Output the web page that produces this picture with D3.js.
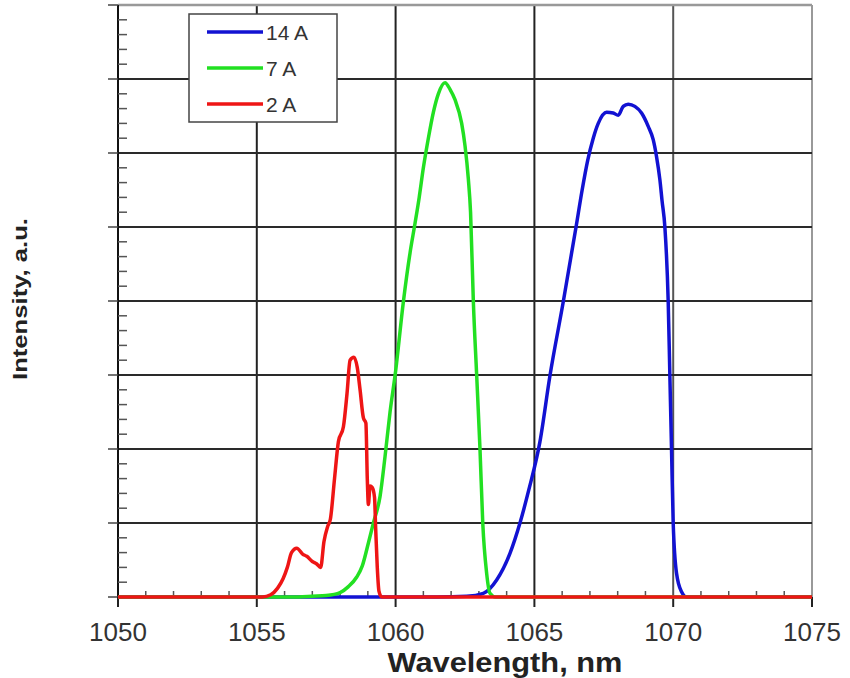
<!DOCTYPE html>
<html>
<head>
<meta charset="utf-8">
<script src="https://cdn.jsdelivr.net/npm/d3@7"></script>
<style>
    body { margin: 0; background: #fff; }
    svg { display: block; }
</style>
</head>
<body>
<svg width="850" height="678"></svg>
<script>
// wavelength (nm) / intensity (in grid units, 0..8)
const wl14 = [1050, 1061.5, 1062.56, 1063.16, 1063.64, 1064.12, 1064.48, 1064.8, 1065.2, 1065.56, 1066.04, 1066.5, 1066.72, 1066.92, 1067.12, 1067.3, 1067.6, 1067.84, 1068.02, 1068.2, 1068.38, 1068.62, 1068.86, 1069.1, 1069.28, 1069.4, 1069.52, 1069.6, 1069.7, 1069.82, 1069.88, 1069.94, 1070.0, 1070.12, 1070.3, 1070.48, 1075];
const int14 = [0, 0, 0.01, 0.05, 0.23, 0.59, 1.0, 1.45, 2.1, 2.99, 3.99, 5.0, 5.5, 5.9, 6.2, 6.4, 6.55, 6.54, 6.51, 6.63, 6.66, 6.63, 6.54, 6.36, 6.18, 5.95, 5.64, 5.35, 5.0, 3.99, 2.99, 1.99, 1.0, 0.32, 0.07, 0, 0];

const wl7 = [1050, 1056.5, 1057.0, 1057.5, 1058.0, 1058.3, 1058.6, 1058.8, 1059.02, 1059.2, 1059.44, 1059.62, 1059.8, 1060.0, 1060.28, 1060.52, 1060.7, 1060.85, 1061.0, 1061.18, 1061.36, 1061.54, 1061.78, 1061.96, 1062.14, 1062.38, 1062.5, 1062.62, 1062.7, 1062.8, 1062.92, 1063.04, 1063.14, 1063.28, 1063.4, 1063.6, 1075];
const int7 = [0, 0, 0.01, 0.02, 0.06, 0.14, 0.27, 0.42, 0.73, 1.0, 1.36, 1.9, 2.5, 3.05, 3.99, 4.65, 5.05, 5.4, 5.8, 6.2, 6.55, 6.8, 6.95, 6.86, 6.72, 6.4, 6.1, 5.65, 5.2, 4.0, 3.0, 2.0, 1.0, 0.32, 0.05, 0, 0];

const wl2 = [1050, 1055.2, 1055.5, 1055.75, 1055.95, 1056.1, 1056.25, 1056.44, 1056.65, 1056.8, 1057.0, 1057.15, 1057.3, 1057.42, 1057.55, 1057.65, 1057.8, 1057.94, 1058.12, 1058.25, 1058.36, 1058.5, 1058.62, 1058.72, 1058.84, 1058.93, 1058.98, 1059.02, 1059.08, 1059.16, 1059.24, 1059.28, 1059.34, 1059.4, 1059.5, 1075];
const int2 = [0, 0, 0.03, 0.12, 0.25, 0.4, 0.6, 0.66, 0.58, 0.55, 0.48, 0.45, 0.4, 0.75, 0.95, 1.05, 1.6, 2.1, 2.3, 2.75, 3.2, 3.24, 3.1, 2.8, 2.42, 2.35, 1.6, 1.25, 1.5, 1.48, 1.35, 0.95, 0.4, 0.08, 0, 0];

const seriesNames = ["14 A", "7 A", "2 A"];
const seriesColors = ["#1212d2", "#22e022", "#ee1515"];
const xTicks = [1050, 1055, 1060, 1065, 1070, 1075];

const svg = d3.select("svg");

const attr_area = { left: 118, right: 812, top: 5, bottom: 597 };

const scaleX = d3.scaleLinear().domain([1050, 1075]).range([attr_area.left, attr_area.right]);
const scaleY = d3.scaleLinear().domain([0, 8]).range([attr_area.bottom, attr_area.top]);

// grid
const grid = svg.append("g");
grid.selectAll("line.v")
    .data(xTicks.slice(1))
    .enter()
    .append("line")
    .attr("x1", d => scaleX(d)).attr("x2", d => scaleX(d))
    .attr("y1", attr_area.top).attr("y2", attr_area.bottom)
    .attr("stroke", d => d === 1075 ? "#999" : (d === 1070 ? "#555" : "#222"))
    .attr("stroke-width", 2);
grid.selectAll("line.h")
    .data(d3.range(1, 9))
    .enter()
    .append("line")
    .attr("x1", attr_area.left).attr("x2", attr_area.right)
    .attr("y1", d => scaleY(d)).attr("y2", d => scaleY(d))
    .attr("stroke", d => d === 8 ? "#999" : "#2a2a2a")
    .attr("stroke-width", d => d === 8 ? 2.5 : 2);

// y axis: major ticks outside, minor ticks inside
const axisY = svg.append("g");
axisY.append("line")
    .attr("x1", attr_area.left).attr("x2", attr_area.left)
    .attr("y1", attr_area.top).attr("y2", attr_area.bottom + 10)
    .attr("stroke", "#111").attr("stroke-width", 2);
axisY.selectAll("line.major")
    .data(d3.range(0, 9))
    .enter()
    .append("line")
    .attr("x1", attr_area.left - 10).attr("x2", attr_area.left)
    .attr("y1", d => scaleY(d)).attr("y2", d => scaleY(d))
    .attr("stroke", "#444").attr("stroke-width", 1.5);
axisY.selectAll("line.minor")
    .data(d3.range(0, 8.01, 0.2).filter(v => Math.abs(v - Math.round(v)) > 0.01))
    .enter()
    .append("line")
    .attr("x1", attr_area.left).attr("x2", attr_area.left + 9)
    .attr("y1", d => scaleY(d)).attr("y2", d => scaleY(d))
    .attr("stroke", "#555").attr("stroke-width", 1.5);

// x axis
const axisX = svg.append("g");
axisX.append("line")
    .attr("x1", attr_area.left).attr("x2", attr_area.right)
    .attr("y1", attr_area.bottom).attr("y2", attr_area.bottom)
    .attr("stroke", "#111").attr("stroke-width", 2);
axisX.selectAll("line.major")
    .data(xTicks)
    .enter()
    .append("line")
    .attr("x1", d => scaleX(d)).attr("x2", d => scaleX(d))
    .attr("y1", attr_area.bottom).attr("y2", attr_area.bottom + 10)
    .attr("stroke", "#222").attr("stroke-width", 2);
axisX.selectAll("line.minor")
    .data(d3.range(1051, 1075).filter(v => v % 5 !== 0))
    .enter()
    .append("line")
    .attr("x1", d => scaleX(d)).attr("x2", d => scaleX(d))
    .attr("y1", attr_area.bottom).attr("y2", attr_area.bottom - 6)
    .attr("stroke", "#555").attr("stroke-width", 1.5);
axisX.selectAll("text")
    .data(xTicks)
    .enter()
    .append("text")
    .attr("x", d => scaleX(d))
    .attr("y", 641)
    .attr("text-anchor", "middle")
    .attr("font-family", "Liberation Sans, Arial, sans-serif")
    .attr("font-size", 26)
    .attr("fill", "#333")
    .text(d => d);

// curves
const series = [
    { name: seriesNames[0], color: seriesColors[0], pts: d3.zip(wl14, int14) },
    { name: seriesNames[1], color: seriesColors[1], pts: d3.zip(wl7, int7) },
    { name: seriesNames[2], color: seriesColors[2], pts: d3.zip(wl2, int2) }
];

const line = d3.line()
    .x(d => scaleX(d[0]))
    .y(d => scaleY(d[1]))
    .curve(d3.curveMonotoneX);

svg.append("g")
    .selectAll("path")
    .data(series)
    .enter()
    .append("path")
    .attr("d", d => line(d.pts))
    .attr("fill", "none")
    .attr("stroke", d => d.color)
    .attr("stroke-width", 3.5)
    .attr("stroke-linejoin", "round");

// legend
const legend = svg.append("g");
legend.append("rect")
    .attr("x", 189).attr("y", 14)
    .attr("width", 148).attr("height", 108)
    .attr("fill", "#fff")
    .attr("stroke", "#444").attr("stroke-width", 1.5);
const items = legend.selectAll("g")
    .data(series)
    .enter()
    .append("g")
    .attr("transform", (d, i) => `translate(0, ${32 + i * 36})`);
items.append("line")
    .attr("x1", 207).attr("x2", 263)
    .attr("stroke", d => d.color)
    .attr("stroke-width", 3.5);
items.append("text")
    .attr("x", 266).attr("y", 8)
    .attr("font-family", "Liberation Sans, Arial, sans-serif")
    .attr("font-size", 21)
    .attr("fill", "#333")
    .text(d => d.name);

// axis titles
svg.append("text")
    .attr("x", 505).attr("y", 672)
    .attr("text-anchor", "middle")
    .attr("font-family", "Liberation Sans, Arial, sans-serif")
    .attr("font-weight", "bold")
    .attr("font-size", 28)
    .attr("textLength", 235)
    .attr("lengthAdjust", "spacingAndGlyphs")
    .attr("fill", "#222")
    .text("Wavelength, nm");

svg.append("text")
    .attr("transform", "translate(27, 299) rotate(-90)")
    .attr("text-anchor", "middle")
    .attr("font-family", "Liberation Sans, Arial, sans-serif")
    .attr("font-weight", "bold")
    .attr("font-size", 20)
    .attr("textLength", 162)
    .attr("lengthAdjust", "spacingAndGlyphs")
    .attr("fill", "#222")
    .text("Intensity, a.u.");
</script>
</body>
</html>
